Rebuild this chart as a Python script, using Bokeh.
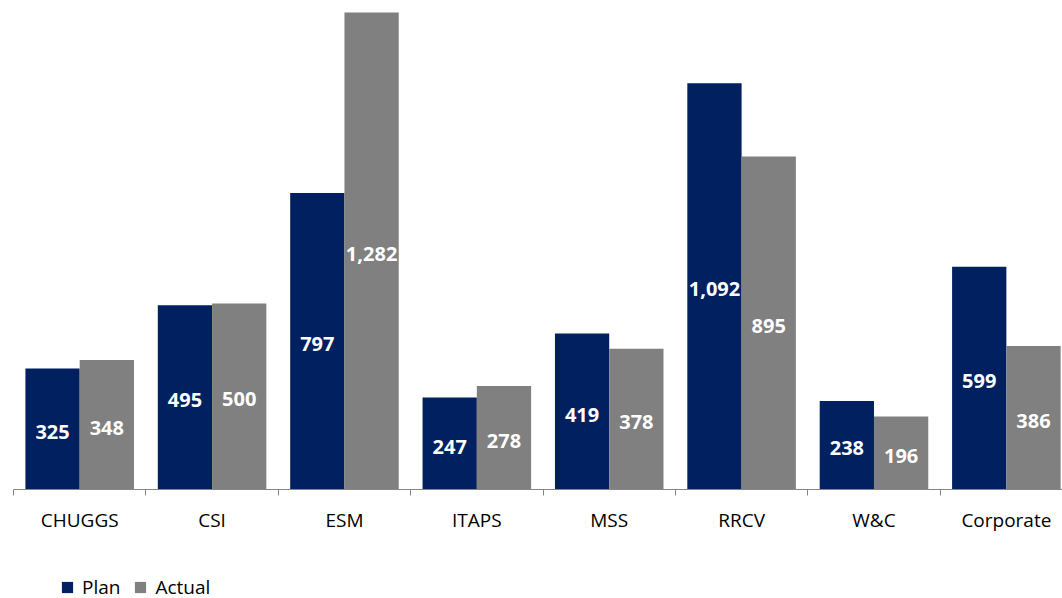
from bokeh.plotting import figure
from bokeh.layouts import column
from bokeh.models import ColumnDataSource, FixedTicker, Legend, LegendItem, Range1d
from bokeh.core.properties import value
from bokeh.embed import file_html
from bokeh.resources import INLINE

categories = ["CHUGGS", "CSI", "ESM", "ITAPS", "MSS", "RRCV", "W&C", "Corporate"]
plan = [325, 495, 797, 247, 419, 1092, 238, 599]
actual = [348, 500, 1282, 278, 378, 895, 196, 386]
series_names = ["Plan", "Actual"]

PLAN_COLOR = "#002060"
ACTUAL_COLOR = "#808080"

n = len(categories)
centers = [i + 0.5 for i in range(n)]
off = 0.205
bw = 0.41

def fmt(v):
    return f"{v:,}"

src_plan = ColumnDataSource(dict(x=[c - off for c in centers], top=plan,
                                 mid=[v / 2 for v in plan], lab=[fmt(v) for v in plan]))
src_act = ColumnDataSource(dict(x=[c + off for c in centers], top=actual,
                                mid=[v / 2 for v in actual], lab=[fmt(v) for v in actual]))

p = figure(width=1062, height=545, output_backend="svg", toolbar_location=None,
           x_range=Range1d(0, 7.924), y_range=Range1d(0, 1314.3),
           min_border_left=13, min_border_right=0, min_border_top=0, min_border_bottom=56)
p.outline_line_color = None
p.xgrid.visible = False
p.ygrid.visible = False
p.yaxis.visible = False

r1 = p.vbar(x="x", top="top", width=bw, bottom=0, source=src_plan, fill_color=PLAN_COLOR, line_color=None)
r2 = p.vbar(x="x", top="top", width=bw, bottom=0, source=src_act, fill_color=ACTUAL_COLOR, line_color=None)

for src in (src_plan, src_act):
    p.text(x="x", y="mid", text="lab", source=src, text_align="center", text_baseline="middle",
           text_color="white", text_font=value("Open Sans"), text_font_style="bold",
           text_font_size="20px", y_offset=3)

ax = p.xaxis[0]
ax.ticker = FixedTicker(ticks=centers, minor_ticks=list(range(n + 1)))
ax.major_label_overrides = {c: name for c, name in zip(centers, categories)}
ax.major_tick_out = 0
ax.major_tick_in = 0
ax.minor_tick_out = 6
ax.minor_tick_in = 0
ax.minor_tick_line_color = "#868686"
ax.axis_line_color = "#868686"
ax.major_label_text_font = "Open Sans"
ax.major_label_text_font_size = "19px"
ax.major_label_text_color = "#000000"
ax.major_label_standoff = 11

# legend strip below the chart: square-marker proxies use the same data, kept out of view
q = figure(width=1062, height=53, output_backend="svg", toolbar_location=None,
           x_range=Range1d(0, 7.924), y_range=Range1d(-20, -10),
           min_border_left=0, min_border_right=0, min_border_top=0, min_border_bottom=0)
q.outline_line_color = None
q.axis.visible = False
q.grid.visible = False
l1 = q.scatter(x="x", y="top", source=src_plan, marker="square", size=11,
               fill_color=PLAN_COLOR, line_color=None)
l2 = q.scatter(x="x", y="top", source=src_act, marker="square", size=11,
               fill_color=ACTUAL_COLOR, line_color=None)

legend = Legend(items=[LegendItem(label=series_names[0], renderers=[l1], index=0),
                       LegendItem(label=series_names[1], renderers=[l2], index=0)],
                orientation="horizontal", location=(40, -3),
                glyph_width=28, glyph_height=28, label_standoff=1, spacing=6,
                label_text_font="Open Sans", label_text_font_size="19px",
                label_text_color="#000000", padding=0, margin=0,
                border_line_color=None, background_fill_alpha=0)
q.add_layout(legend)

layout = column(p, q, spacing=0)
open("out.html", "w").write(file_html(layout, INLINE))
